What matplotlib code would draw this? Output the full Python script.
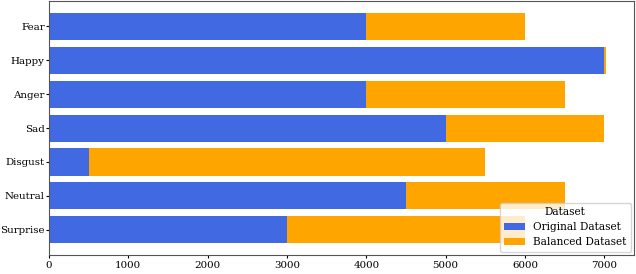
import matplotlib
matplotlib.use('Agg')
import matplotlib.pyplot as plt

plt.rcParams['font.family'] = 'DejaVu Serif'
plt.rcParams['font.size'] = 7.4

emotions = ['Fear', 'Happy', 'Anger', 'Sad', 'Disgust', 'Neutral', 'Surprise']
original = [4000, 7000, 4000, 5000, 500, 4500, 3000]
balanced = [6000, 7025, 6500, 7000, 5500, 6500, 6000]

# extra samples added on top of the original counts
added = [b - o for b, o in zip(balanced, original)]

fig, ax = plt.subplots(figsize=(6.36, 2.74), dpi=100)
ax.barh(emotions, original, color='royalblue', label='Original Dataset')
ax.barh(emotions, added, left=original, color='orange', label='Balanced Dataset')
ax.invert_yaxis()

ax.tick_params(axis='y', length=2.5, pad=0.6)
ax.tick_params(axis='x', length=2.5, pad=2)
for s in ax.spines.values():
    s.set_color('#555555')

ax.legend(title='Dataset', loc='lower right', fontsize=7.6, title_fontsize=7.6,
          borderaxespad=0.3)
fig.subplots_adjust(left=0.077, right=0.997, top=0.995, bottom=0.07)
fig.savefig('out.png')
